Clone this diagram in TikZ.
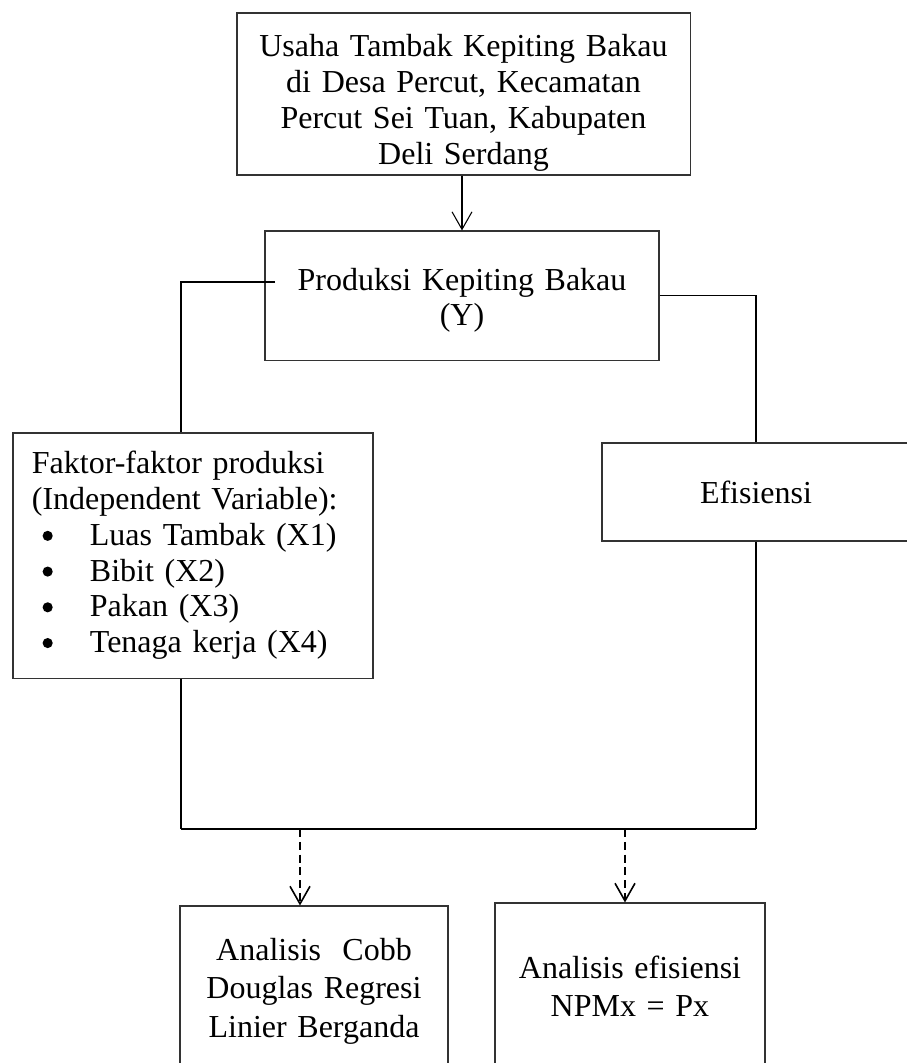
\documentclass[tikz,border=0pt]{standalone}
\usepackage{fontspec}
\setmainfont{Liberation Serif}
\usetikzlibrary{arrows.meta}
\newcommand{\itm}[1]{\makebox[21.75pt][l]{\hspace{4pt}\raisebox{1.7pt}{\tikz\fill (0,0) circle (1.9pt);}}#1}

\begin{document}
\begin{tikzpicture}[x=0.375pt,y=-0.375pt,
  box/.style={draw=black!80,line width=0.4pt,inner sep=0pt,align=center,
    font=\fontsize{12}{13.4}\selectfont},
  link/.style={line width=0.7pt},
  bar/.style={line width=0.9pt},
  tip/.style={line width=0.4pt,-{Straight Barb[length=6.6pt,width=7.5pt]}},
  dashtip/.style={line width=0.6pt,dash pattern=on 3pt off 1.8pt,
    -{Straight Barb[length=6.6pt,width=7.5pt]}}]
\path[use as bounding box,clip] (0,0) rectangle (907,1063);

%%%%%%%%%% boxes
\node[box,text width=169.9pt,minimum height=60.75pt,text height=15pt] (usaha) at (463.5,94)
  {Usaha Tambak Kepiting Bakau\\ di Desa Percut, Kecamatan\\ Percut Sei Tuan, Kabupaten\\ Deli Serdang};
\node[box,text width=147.75pt,minimum height=48.4pt,text height=12pt] (prod) at (462,295.5)
  {Produksi Kepiting Bakau\\ (Y)};
\node[box,align=left,inner xsep=7.1pt,text width=120.8pt,minimum height=91.9pt] (faktor) at (193,555.5)
  {Faktor-faktor produksi\\ (Independent Variable):\\ \itm{Luas Tambak (X1)}\\ \itm{Bibit (X2)}\\
   \itm{Pakan (X3)}\\ \itm{Tenaga kerja (X4)}};
\node[box,text width=115.5pt,minimum height=36.75pt] (efis) at (756,492) {Efisiensi};
\node[box,text width=100.5pt,minimum height=63.75pt,font=\fontsize{12}{14.4}\selectfont] (cobb) at (314,991)
  {Analisis~ Cobb\\ Douglas Regresi\\ Linier Berganda};
\node[box,text width=101.25pt,minimum height=62.25pt,font=\fontsize{12}{14.2}\selectfont] (npm) at (630,986)
  {Analisis efisiensi\\ NPMx = Px};

%%%%%%%%%% connectors
\coordinate (lin) at (275,282);
\coordinate (jl) at (181,829);
\coordinate (jr) at (756,829);
\coordinate (dl) at (300,829);
\coordinate (dr) at (625,829);

\draw[tip] (usaha.south -| prod.north) -- (prod.north);
\draw[link] (lin) -| (faktor.north -| jl);
\draw[link] (prod.east) -| (efis.north);
\draw[link] (faktor.south -| jl) -- (jl);
\draw[link] (efis.south) -- (jr);
\draw[bar] (jl) -- (jr);
\draw[dashtip] (dl) -- (dl |- cobb.north);
\draw[dashtip] (dr) -- (dr |- npm.north);
\end{tikzpicture}
\end{document}
